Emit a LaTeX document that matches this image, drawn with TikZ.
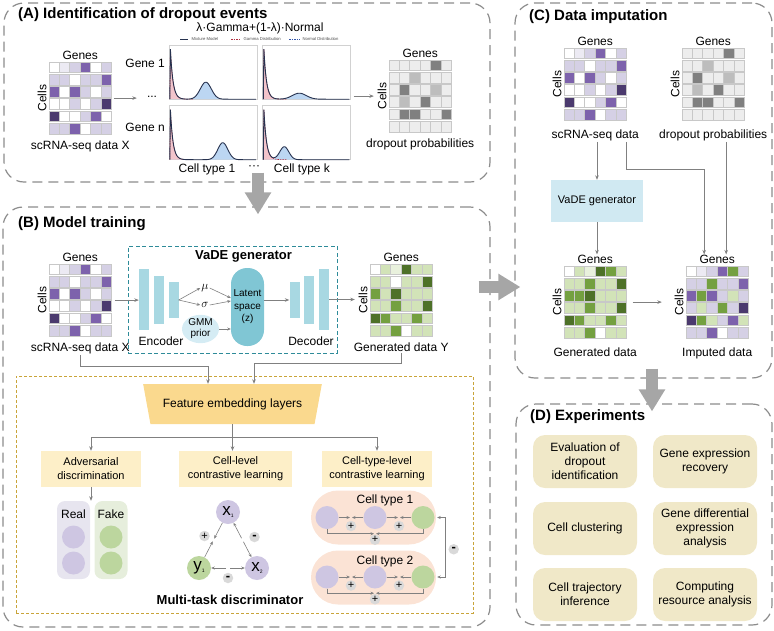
\documentclass[tikz,border=0pt]{standalone}
\usepackage{fontspec}
\setmainfont{Liberation Sans}
\usepackage{xcolor}
\usepackage{tikz}
\usetikzlibrary{arrows.meta,
positioning,
shapes.geometric,
calc}

% heatmap colours
\definecolor{p0}{HTML}{FFFFFF}
\definecolor{p1}{HTML}{ECEAF3}
\definecolor{p2}{HTML}{D5D0E5}
\definecolor{p3}{HTML}{7D62AC}
\definecolor{p4}{HTML}{4B3A6E}
\definecolor{g1}{HTML}{E9F1DD}
\definecolor{g2}{HTML}{D2E3B8}
\definecolor{g3}{HTML}{74A040}
\definecolor{g4}{HTML}{4E7128}
\definecolor{d1}{HTML}{EDEDED}
\definecolor{d2}{HTML}{BDBDBD}
\definecolor{d3}{HTML}{808080}
\definecolor{cellgray}{HTML}{C8C8C8}
% other colours
\definecolor{panelgray}{HTML}{8C8C8C}
\definecolor{vadeteal}{HTML}{2E8B99}
\definecolor{mtdgold}{HTML}{C9A43A}
\definecolor{featyel}{HTML}{FAD98E}
\definecolor{taskyel}{HTML}{FDEFC8}
\definecolor{realbg}{HTML}{E7E5EF}
\definecolor{fakebg}{HTML}{E6EEDC}
\definecolor{circpurple}{HTML}{CEC6E2}
\definecolor{circgreen}{HTML}{BCD69E}
\definecolor{ctpeach}{HTML}{FBE3D5}
\definecolor{badgegray}{HTML}{D9D9D9}
\definecolor{expbeige}{HTML}{F0E8C8}
\definecolor{vadelight}{HTML}{D0E9F2}
\definecolor{barblue}{HTML}{A8D8E2}
\definecolor{latblue}{HTML}{80C6D4}
\definecolor{gmmblue}{HTML}{D5ECF4}
\definecolor{biggray}{HTML}{A6A6A6}
\definecolor{arrowgray}{HTML}{808080}
\definecolor{gampink}{HTML}{F2C4CB}
\definecolor{gamred}{HTML}{B03040}
\definecolor{normblue}{HTML}{BCD6F2}
\definecolor{normdash}{HTML}{3355AA}
\definecolor{mixnavy}{HTML}{27324F}

% matrices (rows of cell colours)
\newcommand{\rnaX}{{p0,p1,p2,p3,p0,p2},{p2,p2,p0,p2,p2,p3},{p3,p0,p3,p2,p0,p2},{p0,p0,p2,p0,p2,p4},{p4,p0,p0,p2,p3,p0},{p2,p2,p3,p0,p2,p2}}
\newcommand{\genY}{{p0,g2,g1,g4,g2,g2},{g2,g2,p0,g2,g2,g4},{g3,g2,g4,g2,g2,g2},{g2,g2,g3,g2,g2,g4},{g4,g3,g2,g2,g3,g2},{g2,g2,g3,p0,g2,g2}}
\newcommand{\genC}{{p0,g2,g1,g4,g3,g2},{g2,g2,g3,g2,g2,g4},{g3,g3,g4,g2,g2,g2},{g2,g2,g3,g2,g2,g4},{g4,g3,g2,g2,g3,g2},{g2,g2,g3,p0,g2,g2}}
\newcommand{\impC}{{p0,p1,p2,p3,g3,p2},{p2,p2,g3,p2,p2,p3},{p3,g3,p3,p2,g2,p2},{p2,g2,p2,g3,p2,p4},{p4,g3,g2,p2,p3,g2},{p2,p2,p3,p0,p2,p2}}
\newcommand{\dropP}{{d1,d1,d1,d1,d3,d1},{d1,d1,d2,d1,d1,d1},{d1,d3,d1,d1,d2,d1},{d1,d2,d1,d3,d1,d1},{d1,d3,d3,d1,d1,d3},{d1,d1,d1,d1,d1,d1}}

\newcommand{\heatmap}[3]{%
	\node[matbox] (#1) at (#2) {};
	\foreach \row [count=\ri] in #3 {
		\foreach \cellcol [count=\ci] in \row {
			\filldraw[cellbox, fill=\cellcol] ($(#1.north west)+({(\ci-1)*10.4},{(\ri-1)*12.3})$) rectangle ++(10.4,10.7);
		}
	}%
}
\newcommand{\genecell}[1]{%
	\node[lbl, above=0.5pt of #1] (genes#1) {Genes};
	\node[lbl, rotate=90, anchor=south] (cells#1) at ([xshift=-1pt]#1.west) {Cells};%
}
% mixture fit: panel, mean, sd, height
\newcommand{\mixfit}[4]{%
	\begin{scope}[shift={(#1.south west)}]
		\fill[gamfill] (1,0) -- (1.6,-50) -- plot[domain=1.6:24, samples=40] (\x,{-50*exp(-(\x-1.6)/2.6)}) -- (24,0) -- cycle;
		\fill[normfill] plot[domain=2:87, samples=120] (\x,{-#4*exp(-((\x-#2)^2)/(2*#3*#3))}) -- cycle;
		\draw[gamline] (1,0) -- (1.6,-50) -- plot[domain=1.6:24, samples=40] (\x,{-50*exp(-(\x-1.6)/2.6)});
		\draw[mixline] (1,0) -- (1.6,-50) -- plot[domain=1.6:87, samples=150] (\x,{-50*exp(-(\x-1.6)/2.6)-#4*exp(-((\x-#2)^2)/(2*#3*#3))});
	\end{scope}%
}
\newcommand{\celllab}[2]{{\fontsize{17}{17}\selectfont #1}\raisebox{-2pt}{\fontsize{5}{5}\selectfont #2}}

\begin{document}
\begin{tikzpicture}[
				x=1pt, y=-1pt,
				lbl/.style={inner sep=1pt, font=\fontsize{12}{14}\selectfont, align=center},
				title/.style={inner sep=0pt, anchor=west, font=\bfseries\fontsize{15}{18}\selectfont},
				boldlbl/.style={inner sep=1pt, font=\bfseries\fontsize{13}{15}\selectfont},
				tinylbl/.style={inner sep=0.5pt, anchor=west, font=\fontsize{4.2}{5}\selectfont, text=black!70},
				panel/.style={draw=panelgray, line width=1.2pt, dash pattern=on 10pt off 6pt, rounded corners=20pt, inner sep=0pt},
				vadebox/.style={draw=vadeteal, line width=0.9pt, dash pattern=on 4pt off 2.5pt, inner sep=0pt},
				mtdbox/.style={draw=mtdgold, line width=0.9pt, dash pattern=on 3pt off 2pt, inner sep=0pt},
				matbox/.style={inner sep=0pt, minimum width=62.4pt, minimum height=72.2pt},
				cellbox/.style={draw=cellgray, line width=0.5pt},
				plotbox/.style={draw=black!18, fill=white, inner sep=0pt, minimum width=88pt, minimum height=54pt},
				gamfill/.style={fill=gampink},
				normfill/.style={fill=normblue},
				gamline/.style={draw=gamred, line width=0.6pt, dash pattern=on 1.5pt off 1pt},
				normdashed/.style={draw=normdash, line width=0.6pt, dash pattern=on 1.5pt off 1pt},
				mixline/.style={draw=mixnavy, line width=0.9pt},
				encbar/.style={fill=barblue, inner sep=0pt, minimum width=10pt},
				latent/.style={fill=latblue, rounded corners=16pt, minimum width=33pt, minimum height=78pt, inner sep=0pt, align=center, font=\fontsize{10}{12.5}\selectfont},
				gmm/.style={ellipse, fill=gmmblue, minimum width=37pt, minimum height=26pt, inner sep=0pt, align=center, font=\fontsize{10}{11}\selectfont},
				feat/.style={trapezium, shape border rotate=180, trapezium left angle=61, trapezium right angle=61, trapezium stretches=true, minimum width=179pt, minimum height=40pt, inner sep=0pt, fill=featyel, font=\fontsize{12}{14}\selectfont},
				taskbox/.style={fill=taskyel, minimum height=36pt, inner sep=1pt, align=center, font=\fontsize{11}{14}\selectfont},
				colbox/.style={rounded corners=8pt, minimum width=33pt, minimum height=78pt, inner sep=0pt},
				pcirc/.style={circle, fill=circpurple, minimum size=23pt, inner sep=0pt},
				gcirc/.style={circle, fill=circgreen, minimum size=23pt, inner sep=0pt},
				ctbg/.style={fill=ctpeach, rounded corners=27pt, minimum width=125pt, minimum height=54pt, inner sep=0pt},
				badge/.style={circle, fill=badgegray, minimum size=10.5pt, inner sep=0pt, font=\fontsize{11}{11}\selectfont},
				minusbadge/.style={badge, font=\bfseries\fontsize{13}{13}\selectfont},
				vadec/.style={fill=vadelight, minimum width=92pt, minimum height=42pt, inner sep=1pt, font=\fontsize{11}{13}\selectfont},
				expbox/.style={fill=expbeige, rounded corners=12pt, minimum width=104pt, minimum height=53pt, inner sep=1pt, align=center, font=\fontsize{12}{14.2}\selectfont},
				flow/.style={draw=arrowgray, line width=0.8pt, -{Stealth[length=4.5pt, width=3.6pt]}},
				flowline/.style={draw=arrowgray, line width=0.8pt},
				flowsm/.style={draw=arrowgray, line width=0.6pt, -{Stealth[length=3.5pt, width=3pt]}},
				bigarrow/.style={draw=biggray, line width=12pt, -{Triangle[length=22pt, width=25pt]}}
				]
				\useasboundingbox (0,0) rectangle (774,630);
				
				% panels
				\node[panel, minimum width=486pt, minimum height=179pt] (panA) at (247,92.5) {};
				\node[panel, minimum width=487pt, minimum height=420pt] (panB) at (246.5,417) {};
				\node[panel, minimum width=257pt, minimum height=375pt] (panC) at (643.5,190.5) {};
				\node[panel, minimum width=256pt, minimum height=221pt] (panD) at (644,514.5) {};
				\node[title] (ttlA) at (18,15) {(A) Identification of dropout events};
				\node[title] (ttlB) at (18,224) {(B) Model training};
				\node[title] (ttlC) at (529,17) {(C) Data imputation};
				\node[title] (ttlD) at (530,417) {(D) Experiments};
				
				% (A) identification of dropout events
				\heatmap{xA}{80.2,98.1}{\rnaX}
				\genecell{xA}
				\node[lbl, below=5pt of xA] (capxA) {scRNA-seq data X};
				\node[lbl] (dotsA) at (152,97) {...};
				\node[plotbox] (pl11) at (213,72) {};
				\node[plotbox] (pl12) at (306.5,72) {};
				\node[plotbox] (pln1) at (213,132.5) {};
				\node[plotbox] (pln2) at (306.5,132.5) {};
				\mixfit{pl11}{37}{5.5}{17}
				\mixfit{pl12}{37}{7}{6}
				\mixfit{pln1}{54}{5}{17}
				\mixfit{pln2}{22}{4.5}{13}
				\node[lbl, anchor=east] (gene1) at (166,63) {Gene 1};
				\node[lbl, anchor=east] (genen) at (166,127) {Gene n};
				\node[lbl] (type1A) at (207,169) {Cell type 1};
				\node[lbl] (typedA) at (254,168) {···};
				\node[lbl] (typekA) at (302,169) {Cell type k};
				\node[lbl] (mixA) at (260,28) {λ·Gamma+(1-λ)·Normal};
				\draw[mixline] (180,39) -- (188,39);
				\node[tinylbl] (lgmix) at (191,39) {Mixture Model};
				\draw[gamline] (231,39) -- (241,39);
				\node[tinylbl] (lggam) at (243,39) {Gamma Distribution};
				\draw[normdashed] (289,39) -- (300,39);
				\node[tinylbl] (lgnorm) at (302,39) {Normal Distribution};
				\heatmap{dA}{420.2,96.1}{\dropP}
				\genecell{dA}
				\node[lbl, below=5pt of dA] (capdA) {dropout probabilities};
				\draw[flow, shorten <=2pt, shorten >=9pt] (xA.east) -- (xA.east -| dotsA.west);
				\draw[flow, shorten <=3pt, shorten >=15pt] (pl12.east |- dA.west) -- (dA.west);
				
				% (B) model training
				\heatmap{xB}{80.2,300.1}{\rnaX}
				\genecell{xB}
				\node[lbl, below=5pt of xB] (capxB) {scRNA-seq data X};
				\node[vadebox, minimum width=209pt, minimum height=107pt] (vade) at (232.5,299.5) {};
				\node[boldlbl] (vadeT) at (243.5,256) {VaDE generator};
				\node[encbar, minimum height=61pt] (enc1) at (144,299.5) {};
				\node[encbar, minimum height=48pt] (enc2) at (159,299.5) {};
				\node[encbar, minimum height=36pt] (enc3) at (173.5,300) {};
				\node[encbar, minimum height=36pt] (dec1) at (294.5,300) {};
				\node[encbar, minimum height=48pt] (dec2) at (309,299.5) {};
				\node[encbar, minimum height=61pt] (dec3) at (324,299.5) {};
				\node[lbl] (encL) at (161,341) {Encoder};
				\node[lbl] (decL) at (311,341) {Decoder};
				\node[lbl] (mu) at (205,288) {$\mu$};
				\node[lbl] (sig) at (205,305) {$\sigma$};
				\node[latent] (lat) at (247.5,307) {Latent\\space\\(z)};
				\node[gmm] (gmm) at (200.5,329) {GMM\\prior};
				\draw[flow, shorten <=3pt] (xB.east) -- (xB.east -| enc1.west);
				\draw[flowsm] (enc3.east) -- (mu.west);
				\draw[flowsm] (enc3.east) -- (sig.west);
				\draw[flowsm] (mu.east) -- ([yshift=9pt]lat.west);
				\draw[flowsm] (sig.east) -- ([yshift=6pt]lat.west);
				\draw[flowsm] (gmm.east) -- (gmm.east -| lat.west);
				\draw[flow] (lat.east |- dec1.west) -- (dec1.west);
				\heatmap{yB}{401.2,300.1}{\genY}
				\genecell{yB}
				\node[lbl, below=5pt of yB] (capyB) {Generated data Y};
				\draw[flow, shorten >=15pt] (dec3.east) -- (dec3.east -| yB.west);
				
				% multi-task discriminator
				\node[mtdbox, minimum width=457pt, minimum height=237pt] (mtd) at (244.5,494.5) {};
				\node[feat] (feat) at (232.5,404) {Feature embedding layers};
				\draw[flow] (capxB.south) -- ++(0,11) -| ([xshift=-24.5pt]feat.north);
				\draw[flow] (capyB.south) -- ++(0,11) -| ([xshift=21.5pt]feat.north);
				\node[taskbox, minimum width=100pt] (adv) at (91,469) {Adversarial\\discrimination};
				\node[taskbox, minimum width=113pt] (cll) at (235.5,469) {Cell-level\\contrastive learning};
				\node[taskbox, minimum width=110pt] (ctl) at (377,469) {Cell-type-level\\contrastive learning};
				\draw[flowline] (feat.south) -- ++(0,13) coordinate (fork);
				\draw[flow] (fork) -| (adv.north);
				\draw[flow] (fork) -- (fork |- cll.north);
				\draw[flow] (fork) -| (ctl.north);
				
				% adversarial
				\node[colbox, fill=realbg] (realc) at (73.5,540) {};
				\node[colbox, fill=fakebg] (fakec) at (111,540) {};
				\node[lbl] (realL) at (73.5,514) {Real};
				\node[lbl] (fakeL) at (111,514) {Fake};
				\node[pcirc] (r1) at (73.5,537) {};
				\node[pcirc] (r2) at (73.5,563) {};
				\node[gcirc] (f1) at (111,537) {};
				\node[gcirc] (f2) at (111,563) {};
				\draw[flow] (adv.south) -- (adv.south |- realc.north);
				
				% cell-level
				\node[pcirc, minimum size=24pt] (x1) at (228,512) {\celllab{x}{1}};
				\node[gcirc, minimum size=24pt] (y1) at (199,568) {\celllab{y}{1}};
				\node[pcirc, minimum size=24pt] (x2) at (257,568) {\celllab{x}{2}};
				\coordinate (mL) at ($(x1)!0.5!(y1)$);
				\coordinate (mR) at ($(x1)!0.5!(x2)$);
				\coordinate (mB) at ($(y1)!0.5!(x2)$);
				\draw[flowsm, shorten >=1.5pt] (x1) -- (mL);
				\draw[flowsm, shorten >=1.5pt] (y1) -- (mL);
				\draw[flowsm, shorten <=2pt] (mR) -- (x1);
				\draw[flowsm, shorten <=2pt] (mR) -- (x2);
				\draw[flowsm, shorten <=2pt] (mB) -- (y1);
				\draw[flowsm, shorten <=2pt] (mB) -- (x2);
				\node[badge] (bL) at ($(mL)+(-9,-4)$) {+};
				\node[minusbadge] (bR) at ($(mR)+(12,-3)$) {-};
				\node[minusbadge] (bB) at ($(mB)+(0,10)$) {-};
				\node[boldlbl] (mtdL) at (230,600) {Multi-task discriminator};
				
				% cell-type-level
				\node[ctbg] (ct1) at (373.5,517.5) {};
				\node[ctbg] (ct2) at (373.5,577.5) {};
				\node[lbl] (ct1L) at (385,500) {Cell type 1};
				\node[lbl] (ct2L) at (385,561) {Cell type 2};
				\foreach \i/\yy in {1/517.5, 2/577} {
					\node[pcirc] (a\i) at (327,\yy) {};
					\node[pcirc] (b\i) at (375,\yy) {};
					\node[gcirc] (c\i) at (423,\yy) {};
					\coordinate (mab\i) at ($(a\i)!0.5!(b\i)$);
					\coordinate (mbc\i) at ($(b\i)!0.5!(c\i)$);
					\coordinate (mac\i) at ($(b\i.south)+(0,4.5)$);
					\draw[flowsm, shorten >=1pt] (a\i) -- (mab\i);
					\draw[flowsm, shorten >=1pt] (b\i) -- (mab\i);
					\draw[flowsm, shorten >=1pt] (b\i) -- (mbc\i);
					\draw[flowsm, shorten >=1pt] (c\i) -- (mbc\i);
					\draw[flowsm, shorten >=1pt] (a\i.south) |- (mac\i);
					\draw[flowsm, shorten >=1pt] (c\i.south) |- (mac\i);
					\node[badge] (bab\i) at ($(mab\i)+(0,8.5)$) {+};
					\node[badge] (bbc\i) at ($(mbc\i)+(0,8.5)$) {+};
					\node[badge] (bac\i) at ($(mac\i)+(0,6)$) {+};
				}
				\coordinate (brk) at ($(c1.east)!0.5!(c2.east)+(11,0)$);
				\draw[flowsm, shorten >=2.5pt] (brk) |- (c1.east);
				\draw[flowsm, shorten >=2.5pt] (brk) |- (c2.east);
				\node[minusbadge] (bct) at ($(brk)+(8,2)$) {-};
				
				% (C) data imputation
				\heatmap{xC}{595.2,84.1}{\rnaX}
				\genecell{xC}
				\node[lbl, below=8pt of xC] (capxC) {scRNA-seq data};
				\heatmap{dC}{713.2,84.1}{\dropP}
				\genecell{dC}
				\node[lbl, below=8pt of dC] (capdC) {dropout probabilities};
				\node[vadec] (vadeC) at (597,201) {VaDE generator};
				\heatmap{gC}{595.2,302.1}{\genC}
				\genecell{gC}
				\node[lbl, below=8pt of gC] (capgC) {Generated data};
				\heatmap{iC}{717.2,302.1}{\impC}
				\genecell{iC}
				\node[lbl, below=8pt of iC] (capiC) {Imputed data};
				\draw[flow] (capxC.south -| vadeC.north) -- (vadeC.north);
				\draw[flow] (vadeC.south) -- (vadeC.south |- genesgC.north);
				\draw[flow] (capxC.south -| xC.east) -- ++(0,27) -| ([xshift=-13pt]genesiC.north);
				\draw[flow] ([xshift=9pt]genesiC.north |- capdC.south) -- ([xshift=9pt]genesiC.north);
				\draw[flow, shorten <=6pt, shorten >=24pt] (gC.east) -- (gC.east -| iC.west);
				
				% (D) experiments
				\node[expbox] (ex1) at (585,461.5) {Evaluation of\\dropout\\identification};
				\node[expbox] (ex2) at (705,461.5) {Gene expression\\recovery};
				\node[expbox] (ex3) at (585,528.5) {Cell clustering};
				\node[expbox] (ex4) at (705,528.5) {Gene differential\\expression\\analysis};
				\node[expbox] (ex5) at (585,594.5) {Cell trajectory\\inference};
				\node[expbox] (ex6) at (705,594.5) {Computing\\resource analysis};
				
				% big arrows between panels
				\draw[bigarrow] ([xshift=11pt, yshift=10pt]panA.south) -- ([xshift=11.5pt, yshift=-8pt]panB.north);
				\draw[bigarrow] ([xshift=-12pt, yshift=130pt]panB.east) -- ([xshift=6pt, yshift=-96.5pt]panC.west);
				\draw[bigarrow] ([xshift=8.5pt, yshift=10pt]panC.south) -- ([xshift=8pt, yshift=-8pt]panD.north);
			\end{tikzpicture}
\end{document}
